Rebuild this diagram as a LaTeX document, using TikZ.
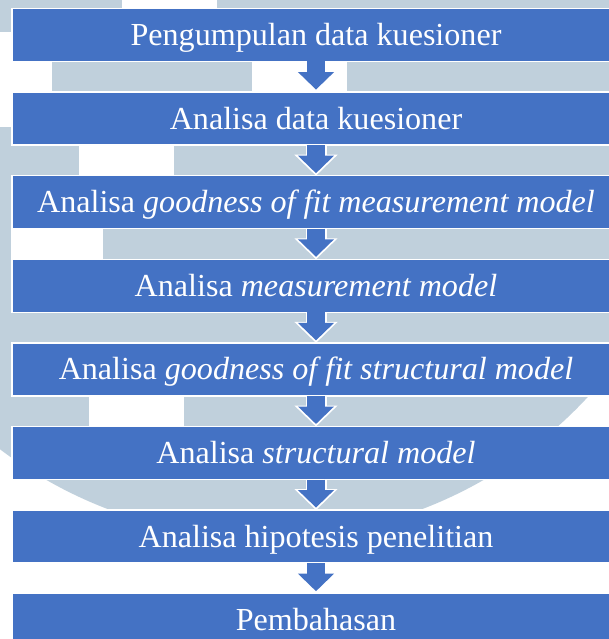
\documentclass[tikz,border=0pt]{standalone}
\usepackage{fontspec}
\setmainfont{Liberation Serif}
\usetikzlibrary{arrows.meta,positioning}
\definecolor{umnblue}{RGB}{68,114,196}
\definecolor{umngray}{RGB}{192,208,220}

\begin{document}
\begin{tikzpicture}[
    x=1pt, y=-1pt,
    node distance=30.6pt,
    box/.style={draw=white, line width=1.5pt, fill=umnblue, text=white, minimum width=608pt, minimum height=53pt, inner sep=0pt, outer sep=0pt, font=\fontsize{32.1}{36}\selectfont, text height=21pt, text depth=0pt},
    arr/.style={draw=umnblue, line width=17.5pt, -{Triangle[width=35pt,length=17.5pt]}, shorten >=2.5pt,
      preaction={draw=white, line width=21pt, -{Triangle[width=42pt,length=21pt]}, shorten >=0pt}}
  ]
    \useasboundingbox (0,0) rectangle (608,639);
    \fill[white] (0,0) rectangle (608,639);

    % faded round logo behind the chart
    \begin{scope}
      \clip (265,98) circle (440);
      \fill[umngray] (-10,-10) rectangle (620,650);
      \fill[white] (122,-5) rectangle (217,9);
      \fill[white] (-5,32) rectangle (12,127);
      \fill[white] (-5,61) rectangle (52,93);
      \fill[white] (252,61) rectangle (347,93);
      \fill[white] (79,144) rectangle (174,177);
      \fill[white] (11,227) rectangle (103,260);
      \fill[white] (89,395) rectangle (184,427);
    \end{scope}

    \node[box] (kumpul) at (316,35) {Pengumpulan data kuesioner};
    \node[box, below=of kumpul] (analisa) {Analisa data kuesioner};
    \node[box, below=of analisa] (gofmm) {Analisa \textit{goodness of fit measurement model}};
    \node[box, below=of gofmm] (mm) {Analisa \textit{measurement model}};
    \node[box, below=of mm] (gofsm) {Analisa \textit{goodness of fit structural model}};
    \node[box, below=of gofsm] (sm) {Analisa \textit{structural model}};
    \node[box, below=of sm] (hipotesis) {Analisa hipotesis penelitian};
    \node[box, below=of hipotesis] (bahas) {Pembahasan};

    \draw[arr] (kumpul) -- (analisa);
    \draw[arr] (analisa) -- (gofmm);
    \draw[arr] (gofmm) -- (mm);
    \draw[arr] (mm) -- (gofsm);
    \draw[arr] (gofsm) -- (sm);
    \draw[arr] (sm) -- (hipotesis);
    \draw[arr] (hipotesis) -- (bahas);
\end{tikzpicture}
\end{document}
